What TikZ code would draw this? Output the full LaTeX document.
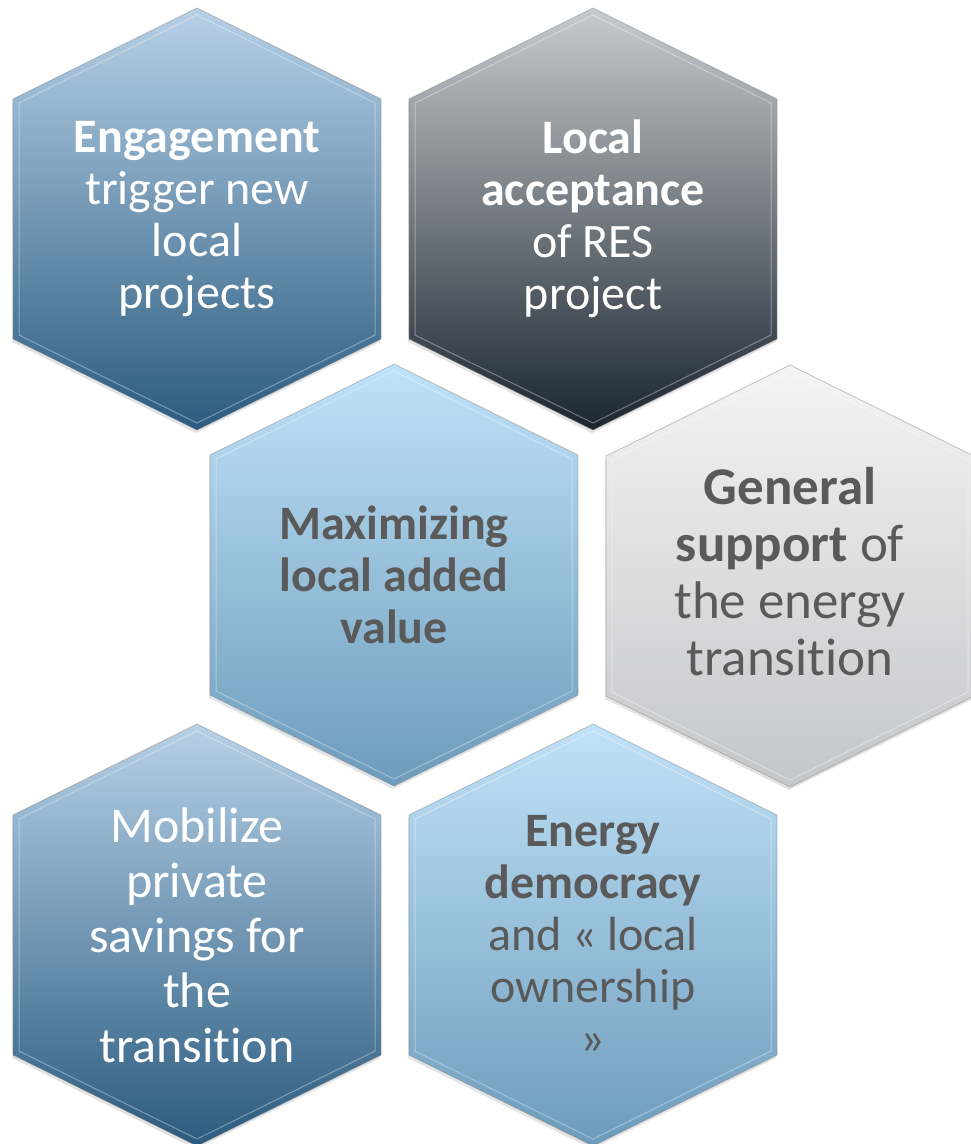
\documentclass[tikz,border=0pt]{standalone}
\usepackage{fontspec}
\setmainfont{Carlito}[Ligatures={NoCommon,NoContextual,NoRare}, Contextuals=NoAlternate]
\usetikzlibrary{backgrounds,shadows}
\definecolor{steeltop}{HTML}{B7D1E7}
\definecolor{steelbot}{HTML}{2B5B7F}
\definecolor{slatetop}{HTML}{C8CBCE}
\definecolor{slatebot}{HTML}{1A2530}
\definecolor{skytop}{HTML}{C1E2F8}
\definecolor{skybot}{HTML}{6C9CBB}
\definecolor{silvertop}{HTML}{F4F4F4}
\definecolor{silverbot}{HTML}{C5C6C8}
\definecolor{darktext}{HTML}{5A5A5A}
\tikzstyle{bag} = [align=center, inner sep=0pt, font=\fontsize{48}{52}\selectfont]
\tikzstyle{cell} = [draw=black!50, draw opacity=0.45, line width=0.8pt,
  drop shadow={shadow xshift=-1pt, shadow yshift=-3pt, opacity=0.22}]
\tikzstyle{bevel} = [draw=white, draw opacity=0.35, line width=1pt]
\tikzstyle{hexpath} = [insert path={++(0,-211) -- ++(184,91) -- ++(0,240)
  -- ++(-184,91) -- ++(-184,-91) -- ++(0,-240) -- cycle}]
\tikzstyle{hexinner} = [insert path={++(0,-204) -- ++(178,88) -- ++(0,232)
  -- ++(-178,88) -- ++(-178,-88) -- ++(0,-232) -- cycle}]

\begin{document}
\begin{tikzpicture}[x=1pt, y=-1pt]
  \useasboundingbox (0,0) rectangle (971,1144);
  \node (a) at (197,219) [bag, text=white] {\textbf{Engagement}\\trigger new\\local\\projects};
  \node (b) at (593,219) [bag, text=white] {\textbf{Local}\\\textbf{acceptance}\\of RES\\project};
  \node (c) at (394,575) [bag, text=darktext] {\textbf{Maximizing}\\\textbf{local added}\\\textbf{value}};
  \node (d) at (790,572) [bag, text=darktext, font=\fontsize{53}{57}\selectfont] {\textbf{General}\\\textbf{support} of\\the energy\\transition};
  \node (e) at (197,935) [bag, text=white, font=\fontsize{50}{55}\selectfont] {Mobilize\\private\\savings for\\the\\transition};
  \node (f) at (593,935) [bag, text=darktext] {\textbf{Energy}\\\textbf{democracy}\\and « local\\ownership\\»};
  \coordinate (dc) at ([yshift=-4pt]d.center);
  \begin{scope}[on background layer]
    \shade [cell, top color=steeltop, bottom color=steelbot] (a.center) [hexpath];
    \shade [cell, top color=slatetop, bottom color=slatebot] (b.center) [hexpath];
    \shade [cell, top color=skytop, bottom color=skybot] (c.center) [hexpath];
    \shade [cell, top color=silvertop, bottom color=silverbot] (dc) [hexpath];
    \shade [cell, top color=steeltop, bottom color=steelbot] (e.center) [hexpath];
    \shade [cell, top color=skytop, bottom color=skybot] (f.center) [hexpath];
    \foreach \n in {a.center,b.center,c.center,dc,e.center,f.center}
      \path [bevel] (\n) [hexinner];
  \end{scope}
\end{tikzpicture}
\end{document}
